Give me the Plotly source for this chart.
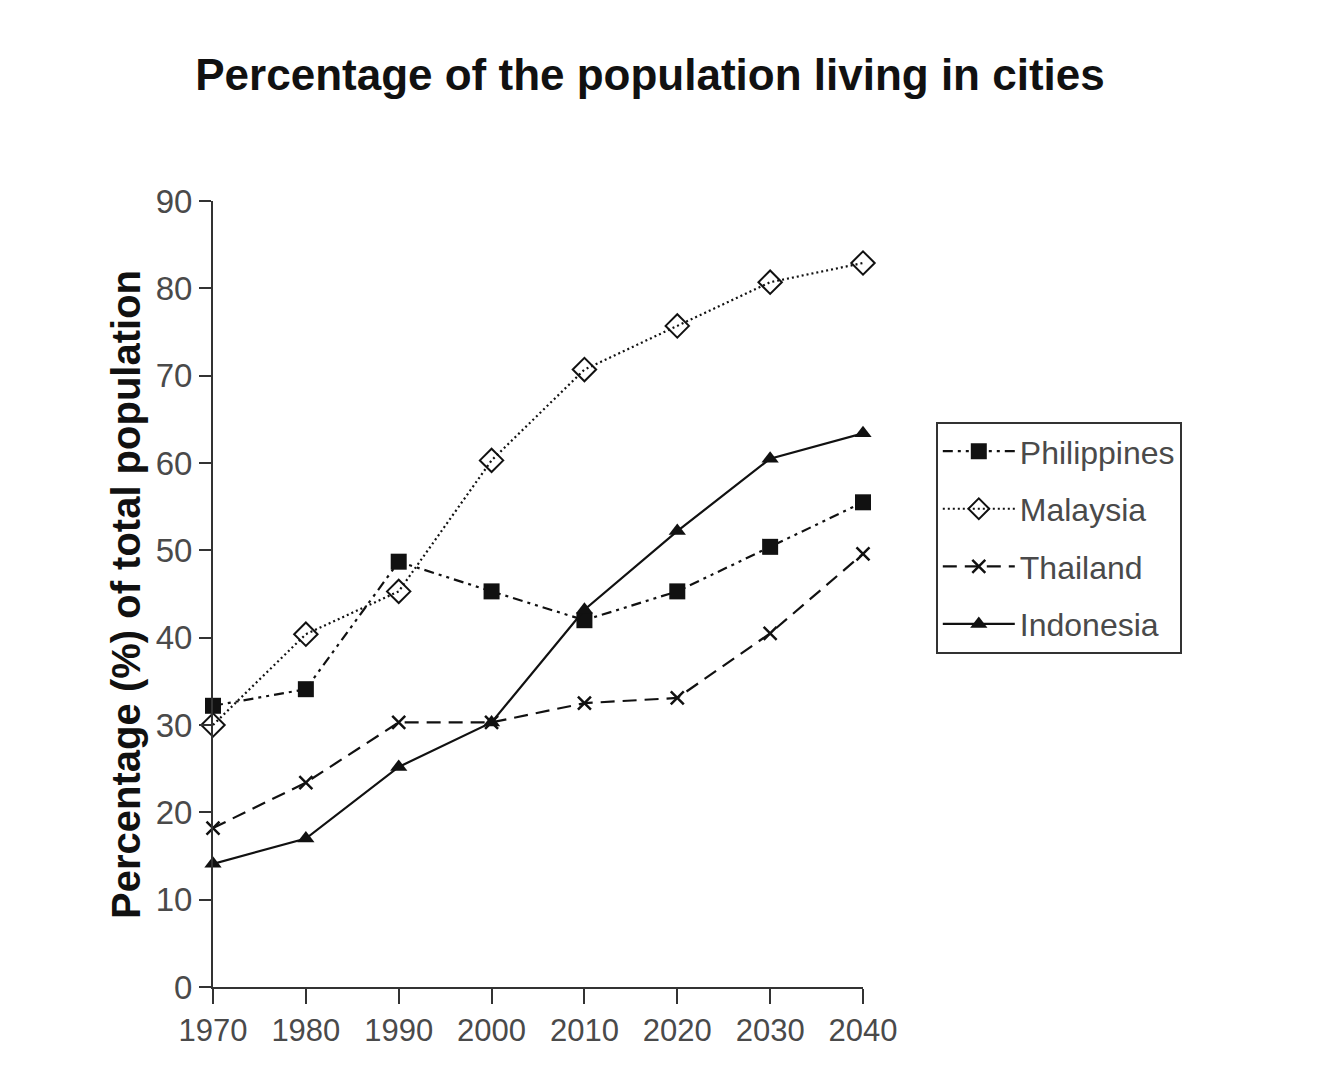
import plotly.graph_objects as go

years = [1970, 1980, 1990, 2000, 2010, 2020, 2030, 2040]
philippines = [32.2, 34.1, 48.7, 45.3, 42.0, 45.3, 50.4, 55.5]
malaysia = [30.0, 40.4, 45.3, 60.3, 70.7, 75.7, 80.7, 82.9]
thailand = [18.2, 23.4, 30.3, 30.3, 32.5, 33.1, 40.5, 49.6]
indonesia = [14.1, 17.0, 25.2, 30.3, 43.2, 52.2, 60.5, 63.4]

y_ticks = [0, 10, 20, 30, 40, 50, 60, 70, 80, 90]

font = "Liberation Sans, Arial"

fig = go.Figure()
series = [
    ("Philippines", philippines, "10px,5px,3px,5px,3px,5px", dict(symbol="square", size=16, color="#111")),
    ("Malaysia", malaysia, "2px,3px", dict(symbol="diamond-open", size=18, color="#111", line=dict(width=2))),
    ("Thailand", thailand, "14px,8px", dict(symbol="x-thin-open", size=13, color="#111", line=dict(width=2.5, color="#111"))),
    ("Indonesia", indonesia, "solid", dict(symbol="triangle-up", size=15, color="#111")),
]
for i, (name, vals, dash, marker) in enumerate(series):
    fig.add_trace(go.Scatter(
        x=years, y=vals, name=name, mode="lines+markers", legendgroup=f"g{i}",
        line=dict(color="#111", width=2.2, dash=dash),
        marker=marker, cliponaxis=False,
    ))

fig.add_annotation(
    text="<b>Percentage (%) of total population</b>", textangle=-90,
    xref="paper", yref="paper", x=-0.134, y=0.5, xanchor="center", yanchor="middle",
    showarrow=False, font=dict(family=font, size=40, color="#111"),
)

fig.update_layout(
    width=1322, height=1090,
    paper_bgcolor="white", plot_bgcolor="white",
    margin=dict(l=213, r=459, t=201, b=103),
    title=dict(text="<b>Percentage of the population living in cities</b>",
               x=650 / 1322, xanchor="center", y=1 - 75 / 1090, yanchor="middle",
               font=dict(family=font, size=44, color="#111")),
    xaxis=dict(range=[1970, 2040], tickvals=years, ticktext=[str(y) for y in years],
               showgrid=False, zeroline=False, showline=True, linecolor="#333", linewidth=2,
               ticks="outside", ticklen=15, tickwidth=2, tickcolor="#333",
               tickfont=dict(family=font, size=31, color="#4a4a4a")),
    yaxis=dict(range=[0, 90], tickvals=y_ticks,
               showgrid=False, zeroline=False, showline=True, linecolor="#333", linewidth=2,
               ticks="outside", ticklen=12, tickwidth=2, tickcolor="#333",
               tickfont=dict(family=font, size=33, color="#4a4a4a")),
    legend=dict(x=1.112, y=0.719, xanchor="left", yanchor="top",
                bordercolor="#333", borderwidth=2, bgcolor="white",
                font=dict(family=font, size=32, color="#4a4a4a"),
                itemwidth=72, traceorder="grouped", tracegroupgap=13),
    showlegend=True,
)

fig.write_html("out.html")
